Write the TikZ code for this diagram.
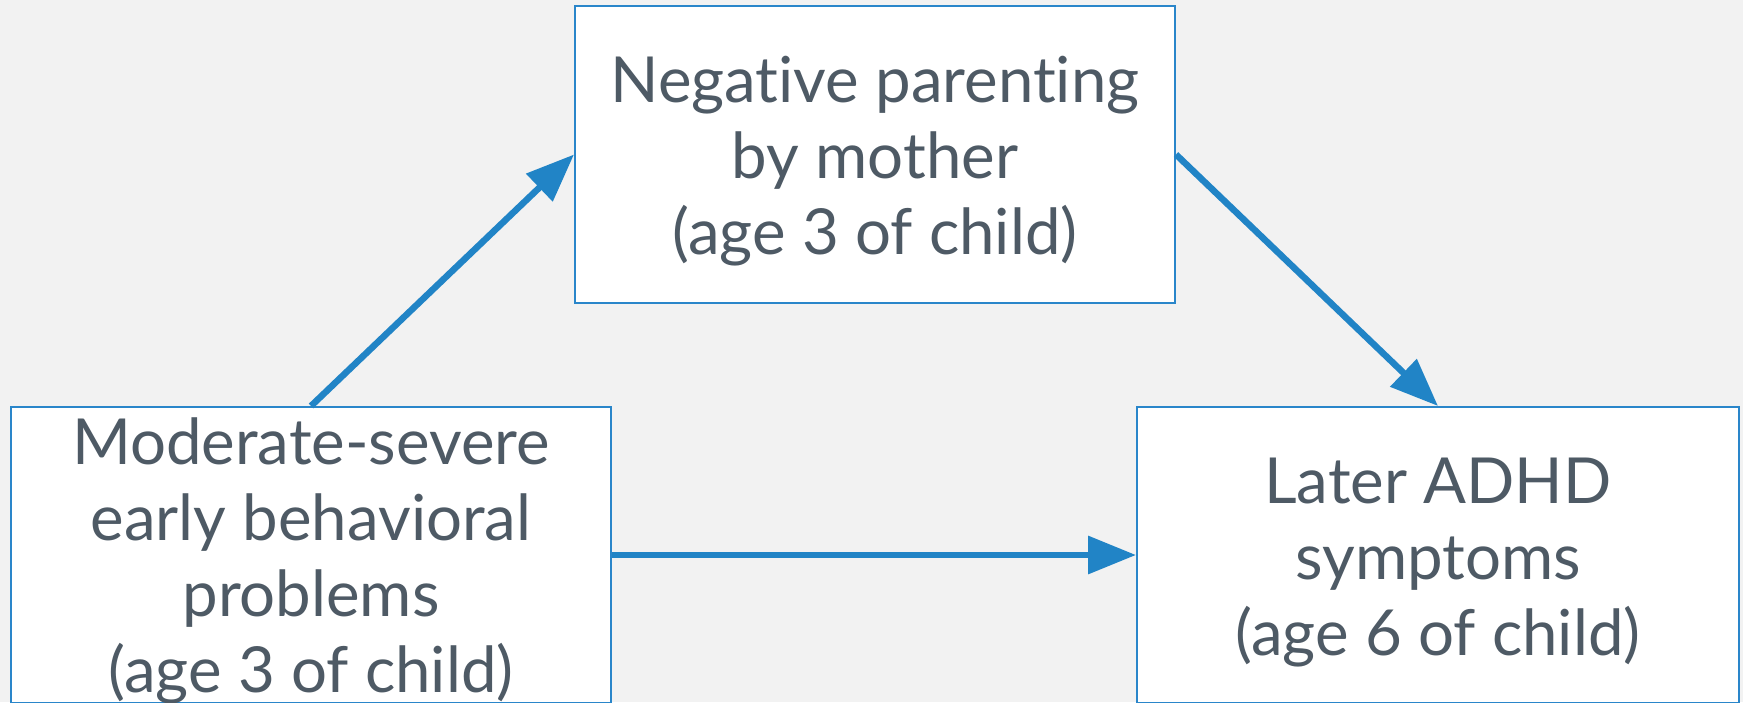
\documentclass[tikz,border=0pt]{standalone}
\usepackage{fontspec}
\setmainfont{Lato}[Ligatures={NoCommon}]
\usetikzlibrary{arrows.meta}
\definecolor{bg}{HTML}{F2F2F2}
\definecolor{edge}{HTML}{2A86CA}
\definecolor{arrowblue}{HTML}{2184C6}
\definecolor{txt}{HTML}{4E5A65}
\tikzset{
  box/.style={draw=edge, line width=2pt, fill=white, rectangle, inner sep=0pt},
  lbl/.style={align=center, text=txt, inner sep=0pt,
    font=\fontsize{63.5}{76}\selectfont},
  arr/.style={draw=arrowblue, line width=6.5pt,
    -{Triangle[length=48pt,width=37pt]}}
}
\begin{document}
\begin{tikzpicture}[x=1pt,y=-1pt]
\fill[bg] (0,0) rectangle (1743,702);
\useasboundingbox (0,0) rectangle (1743,702);
\node[box, minimum width=600pt, minimum height=297pt] (T) at (875,154.5) {};
\node[box, minimum width=600pt, minimum height=296pt] (L) at (311,555) {};
\node[box, minimum width=602pt, minimum height=296pt] (R) at (1438,555) {};
\node[lbl] (Tt) at ([yshift=-7pt]T.center) {Negative parenting\\by mother\\(age 3 of child)};
\node[lbl] (Lt) at ([yshift=-6pt]L.center) {Moderate-severe\\early behavioral\\problems\\(age 3 of child)};
\node[lbl] (Rt) at ([yshift=-8pt]R.center) {Later ADHD\\symptoms\\(age 6 of child)};
\draw[arr] (L.north) -- (T.west);
\draw[arr] (T.east) -- (R.north);
\draw[arr] (L.east) -- (R.west);
\end{tikzpicture}
\end{document}
